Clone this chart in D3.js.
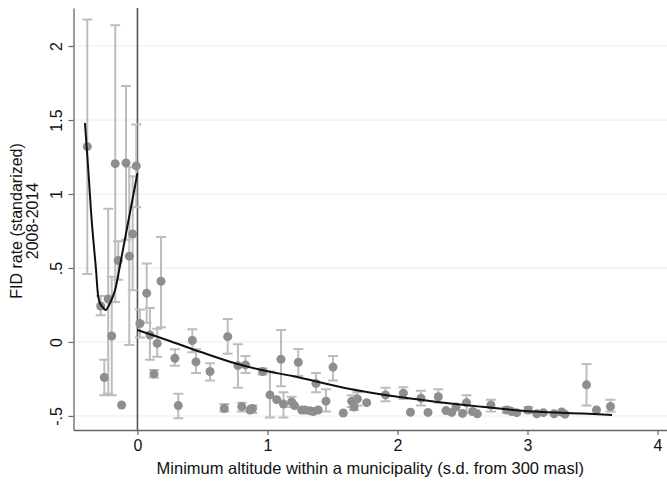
<!DOCTYPE html>
<html>
<head>
<meta charset="utf-8">
<script src="https://cdnjs.cloudflare.com/ajax/libs/d3/7.8.5/d3.min.js"></script>
<style>
body { margin: 0; background: #fff; }
text { font-family: "Liberation Sans", Arial, Helvetica, sans-serif; fill: #111; }
</style>
</head>
<body>
<svg id="chart" width="667" height="483"></svg>
<script>
// binned means (x = altitude bin, y = FID rate), with CI ends (null = no bar drawn)
var binX = [-0.386, -0.283, -0.225, -0.198, -0.255, -0.122, -0.171, -0.088, -0.009, -0.037, -0.063, -0.148,
    0.019, 0.071, 0.096, 0.181, 0.152, 0.127, 0.288, 0.314, 0.422, 0.45, 0.558, 0.668, 0.694, 0.773,
    0.802, 0.831, 0.865, 0.885, 0.963, 1.019, 1.071, 1.104, 1.123, 1.186, 1.208, 1.237, 1.263, 1.288,
    1.327, 1.352, 1.39, 1.373, 1.45, 1.504, 1.583, 1.648, 1.665, 1.692, 1.763, 1.908, 2.045, 2.10,
    2.181, 2.235, 2.314, 2.373, 2.417, 2.45, 2.50, 2.531, 2.578, 2.614, 2.719, 2.84, 2.878, 2.917,
    3.006, 3.071, 3.122, 3.204, 3.263, 3.288, 3.454, 3.531, 3.638];
var binY = [1.32, 0.243, 0.29, 0.04, -0.24, -0.426, 1.205, 1.21, 1.19, 0.73, 0.58, 0.55,
    0.125, 0.33, 0.047, 0.41, -0.01, -0.216, -0.11, -0.43, 0.01, -0.135, -0.2, -0.45, 0.036, -0.16,
    -0.437, -0.155, -0.46, -0.45, -0.2, -0.358, -0.39, -0.117, -0.42, -0.405, -0.43, -0.137, -0.46, -0.46,
    -0.465, -0.47, -0.46, -0.28, -0.40, -0.17, -0.48, -0.40, -0.44, -0.385, -0.41, -0.358, -0.347, -0.475,
    -0.38, -0.476, -0.37, -0.464, -0.476, -0.44, -0.483, -0.41, -0.47, -0.486, -0.426, -0.46, -0.47, -0.478,
    -0.46, -0.486, -0.478, -0.486, -0.473, -0.488, -0.29, -0.46, -0.436];
var binLo = [0.46, 0.18, -0.35, -0.36, -0.36, null, 0.27, 0.69, 0.91, 0.35, -0.02, 0.42,
    0.03, 0.13, -0.12, 0.10, -0.10, -0.24, -0.16, -0.515, -0.07, -0.21, -0.26, -0.47, -0.08, -0.31,
    -0.47, -0.21, null, -0.48, -0.22, -0.51, null, -0.30, -0.51, -0.44, null, -0.23, null, null,
    null, null, null, -0.34, -0.47, -0.26, null, -0.44, -0.46, -0.43, null, -0.40, -0.385, null,
    -0.43, null, -0.41, null, null, null, null, -0.48, null, null, -0.47, -0.48, null, null,
    -0.48, null, null, null, null, null, -0.43, null, -0.47];
var binHi = [2.18, 0.31, 0.90, 0.44, -0.12, null, 2.14, 1.73, 1.47, 1.12, 1.18, 0.68,
    0.22, 0.53, 0.23, 0.71, 0.09, -0.19, -0.05, -0.35, 0.086, -0.05, -0.144, -0.42, 0.155, -0.016,
    -0.41, -0.095, null, -0.43, -0.18, -0.20, null, 0.08, -0.34, -0.37, null, -0.047, null, null,
    null, null, null, -0.21, -0.32, -0.095, null, -0.36, -0.41, -0.34, null, -0.31, -0.306, null,
    -0.33, null, -0.32, null, null, null, null, -0.36, null, null, -0.39, -0.44, null, null,
    -0.44, null, null, null, null, null, -0.149, null, -0.39];

var leftFitX = [-0.404, -0.378, -0.352, -0.319, -0.302, -0.288, -0.263, -0.245, -0.212, -0.173, -0.14, -0.083, 0];
var leftFitY = [1.48, 1.16, 0.82, 0.49, 0.31, 0.26, 0.23, 0.216, 0.26, 0.35, 0.49, 0.757, 1.14];
var rightFitX = [0, 0.237, 0.494, 0.75, 0.981, 1.2, 1.635, 2.115, 2.635, 3.042, 3.427, 3.65];
var rightFitY = [0.081, 0.01, -0.07, -0.144, -0.195, -0.232, -0.318, -0.384, -0.437, -0.47, -0.484, -0.493];

var yTicks = [-0.5, 0, 0.5, 1, 1.5, 2];
var yTickLabels = ["-.5", "0", ".5", "1", "1.5", "2"];
var xTicks = [0, 1, 2, 3, 4];

var yTitle = ["FID rate (standarized)", "2008-2014"];
var xTitle = "Minimum altitude within a municipality (s.d. from 300 masl)";

var plotL = 73.5, plotR = 667, plotT = 8, plotB = 430;

var x = d3.scaleLinear().domain([-0.492, 4.073]).range([plotL, plotR]);
var y = d3.scaleLinear().domain([-0.595, 2.257]).range([plotB, plotT]);

var svg = d3.select("#chart");

// gridlines
svg.append("g").selectAll("line")
    .data(yTicks)
    .enter().append("line")
    .attr("x1", plotL).attr("x2", plotR)
    .attr("y1", function(d) { return y(d); })
    .attr("y2", function(d) { return y(d); })
    .style("stroke", "#e4eef0")
    .style("stroke-width", 1);

// cutoff line
svg.append("line")
    .attr("x1", x(0)).attr("x2", x(0))
    .attr("y1", plotT).attr("y2", plotB)
    .style("stroke", "#555")
    .style("stroke-width", 1.6);

var pts = binX.map(function(d, i) {
    return { x: d, y: binY[i], lo: binLo[i], hi: binHi[i] };
});
var withBars = pts.filter(function(d) { return d.lo != null; });

var bars = svg.append("g")
    .style("stroke", "#bdbdbd")
    .style("stroke-width", 2)
    .style("fill", "none");
bars.selectAll(".bar")
    .data(withBars)
    .enter().append("path")
    .attr("d", function(d) {
        var cx = x(d.x), y1 = y(d.lo), y2 = y(d.hi);
        return "M" + (cx - 5) + "," + y1 + "H" + (cx + 5) +
            "M" + cx + "," + y1 + "V" + y2 +
            "M" + (cx - 5) + "," + y2 + "H" + (cx + 5);
    });

svg.append("g").selectAll("circle")
    .data(pts)
    .enter().append("circle")
    .attr("cx", function(d) { return x(d.x); })
    .attr("cy", function(d) { return y(d.y); })
    .attr("r", 4.5)
    .style("fill", "#8e8e8e");

var line = d3.line()
    .x(function(d) { return x(d[0]); })
    .y(function(d) { return y(d[1]); })
    .curve(d3.curveCatmullRom.alpha(0.5));

[[leftFitX, leftFitY], [rightFitX, rightFitY]].forEach(function(s) {
    svg.append("path")
        .datum(s[0].map(function(v, i) { return [v, s[1][i]]; }))
        .attr("d", line)
        .style("fill", "none")
        .style("stroke", "#111")
        .style("stroke-width", 2);
});

// axes
var yAxis = svg.append("g")
    .attr("transform", "translate(" + plotL + ",0)")
    .call(d3.axisLeft(y).tickValues(yTicks).tickSize(5).tickSizeOuter(0)
        .tickFormat(function(d, i) { return yTickLabels[i]; }));
yAxis.selectAll("text")
    .attr("transform", "rotate(-90)")
    .attr("x", 0).attr("y", -12).attr("dy", 0)
    .style("text-anchor", "middle");

var xAxis = svg.append("g")
    .attr("transform", "translate(0," + plotB + ")")
    .call(d3.axisBottom(x).tickValues(xTicks).tickSize(5).tickSizeOuter(0)
        .tickFormat(d3.format("d")));
xAxis.selectAll("text").attr("y", 10);

[yAxis, xAxis].forEach(function(a) {
    a.selectAll("text").style("font-size", "16px").style("font-family", null);
    a.select(".domain").style("stroke", "#666").style("stroke-width", 1.3);
    a.selectAll(".tick line").style("stroke", "#666").style("stroke-width", 1.2);
});

// titles
svg.append("text")
    .attr("transform", "translate(22,221) rotate(-90)")
    .style("text-anchor", "middle")
    .style("font-size", "16px")
    .selectAll("tspan")
    .data(yTitle)
    .enter().append("tspan")
    .attr("x", 0)
    .attr("dy", function(d, i) { return i ? "1.0em" : 0; })
    .text(function(d) { return d; });

svg.append("text")
    .attr("x", (plotL + plotR) / 2)
    .attr("y", 474)
    .style("text-anchor", "middle")
    .style("font-size", "16.5px")
    .text(xTitle);
</script>
</body>
</html>
